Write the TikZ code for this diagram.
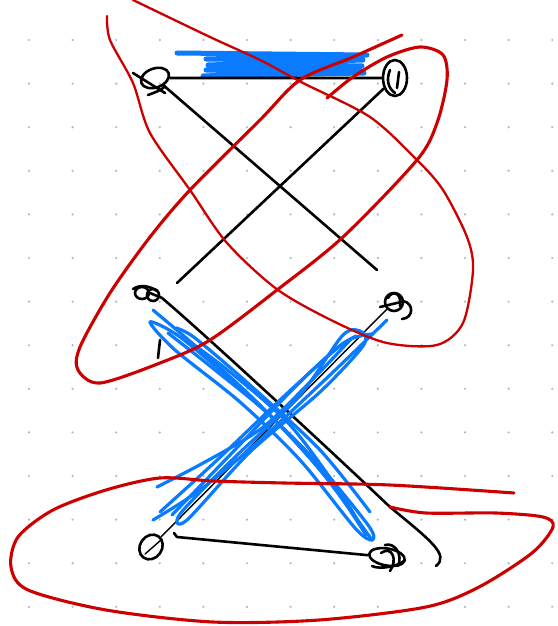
\documentclass[tikz,border=0pt]{standalone}
\usetikzlibrary{calc,shapes.geometric}
\definecolor{sred}{HTML}{CC0000}
\definecolor{sblue}{HTML}{0A7AFF}
\definecolor{griddot}{HTML}{B4B4B4}
\tikzset{
  redthick/.style={draw=sred, line width=3.1pt, line cap=round, line join=round},
  redthin/.style={draw=sred, line width=2.3pt, line cap=round, line join=round},
  bluemark/.style={draw=sblue, line width=5pt, line cap=round, line join=round},
  bluepen/.style={draw=sblue, line width=3.2pt, line cap=round, line join=round},
  ink/.style={draw=black, line width=2.6pt, line cap=round, line join=round},
  inkthin/.style={draw=black, line width=1.4pt, line cap=round, line join=round},
  vert/.style={ellipse, draw=black, line width=2.6pt, inner sep=0pt},
}
\begin{document}
\begin{tikzpicture}[x=1pt,y=-1pt]
\useasboundingbox (0,0) rectangle (557,626);
% dot grid
\foreach \i in {0,...,12}{\foreach \j in {0,...,13}{
  \fill[griddot] ({29+43.6*\i},{40+43.6*\j}) circle (1.2pt);}}

% blue top scribble
\draw[bluemark] (177,53) -- (367,55) -- (206,59) -- (363,60) -- (208,65) -- (362,66) -- (206,70) -- (360,70) -- (203,76) -- (364,73);

% nodes
\node[vert, minimum width=29pt, minimum height=19pt, rotate=20] (A) at (155,78) {};
\node[vert, minimum width=24pt, minimum height=36pt] (B) at (395,78) {};
\node[vert, minimum width=14pt, minimum height=12pt] (C) at (142,293) {};
\node[vert, minimum width=18pt, minimum height=18pt] (D) at (394,302) {};
\node[vert, minimum width=22pt, minimum height=26pt, rotate=-35] (E) at (151,547) {};
\node[vert, minimum width=36pt, minimum height=17pt, rotate=-10] (F) at (387,557) {};

% node scribbles
\draw[ink] (133,73) -- (165,93);
\draw[ink] (148,95) .. controls (156,92) and (162,90) .. (165,86);
\draw[ink] (390,70) .. controls (386,80) and (388,88) .. (395,93);
\draw[ink] (399,72) -- (397,88);
\draw[ink] (153,295) ellipse (6pt and 6pt);
\draw[ink] (133,289) .. controls (140,284) and (150,286) .. (157,291);
\draw[ink] (380,307) -- (401,302);
\draw[ink] (388,298) .. controls (392,290) and (402,292) .. (400,306);
\draw[ink] (403,301) .. controls (414,303) and (414,318) .. (402,319);
\draw[ink] (381,553) .. controls (392,545) and (398,560) .. (390,571);
\draw[ink] (385,545) .. controls (395,542) and (403,555) .. (398,566);
\draw[ink] (372,566) .. controls (380,570) and (400,566) .. (405,560);
\draw[inkthin] (145,554) -- (161,540);

% black connectors
\coordinate (a1) at (377,270);
\coordinate (b1) at (177,283);
\draw[ink] (A) -- (B);
\draw[ink] (A) -- (a1);
\draw[ink] (B) -- (b1);
\draw[ink] (C.east) .. controls (158,297) and (160,296) .. (162,298)
  .. controls (200,330) and (330,450) .. (390,507)
  .. controls (430,540) and (450,555) .. (436,566);
\draw[ink] (160,340) -- (158,358);
\draw[inkthin] (D) -- (E);
\draw[ink] ($(E)+(23,-14)$) -- ($(E)+(26,-10)$) -- (F);

% blue crossing bundles
\draw[bluepen] plot[smooth] coordinates {(153,310) (200,350) (260,405) (320,470) (372,540)};
\draw[bluepen] plot[smooth cycle] coordinates {(150,322) (175,350) (240,402) (300,460) (355,528) (372,540) (368,525) (310,455) (240,388) (180,337)};
\draw[bluepen] plot[smooth] coordinates {(176,328) (195,338) (250,385) (320,450) (370,512)};
\draw[bluepen] plot[smooth] coordinates {(190,342) (230,372) (290,425) (340,492) (362,528)};
\draw[bluepen] plot[smooth] coordinates {(168,333) (215,370) (275,420) (330,482) (366,535)};
\draw[bluepen] plot[smooth] coordinates {(387,320) (330,375) (260,440) (200,490) (153,520)};
\draw[bluepen] plot[smooth cycle] coordinates {(343,335) (362,332) (363,346) (320,392) (250,452) (187,520) (180,514) (232,460) (300,395)};
\draw[bluepen] plot[smooth] coordinates {(157,487) (205,462) (262,428) (312,380) (352,338)};
\draw[bluepen] plot[smooth] coordinates {(172,515) (230,455) (300,382) (345,342) (372,334)};
\draw[bluepen] plot[smooth] coordinates {(160,512) (215,462) (280,400) (335,350) (356,336)};

% red loops
\draw[redthick] plot[smooth] coordinates {(402,35) (353,57) (300,80) (260,120) (190,190) (150,237) (110,293) (80,347) (78,370) (100,383) (160,363) (210,340) (277,290) (343,237) (417,160) (437,123) (447,80) (443,55) (420,47) (387,57) (353,77) (327,98)};
\draw[redthin] plot[smooth] coordinates {(107,16) (110,40) (133,83) (150,133) (190,190) (227,243) (278,290) (337,323) (387,343) (437,345) (463,323) (473,270) (467,237) (443,190) (417,160) (370,117) (303,83) (260,60) (210,37) (133,0)};
\draw[redthick] plot[smooth] coordinates {(514,493) (390,485) (284,483) (213,481) (160,478) (106,490) (53,510) (18,537) (11,567) (28,590) (106,610) (213,622) (319,620) (426,607) (479,587) (532,553) (553,527) (543,517) (496,513) (426,513) (390,507)};
\end{tikzpicture}
\end{document}
